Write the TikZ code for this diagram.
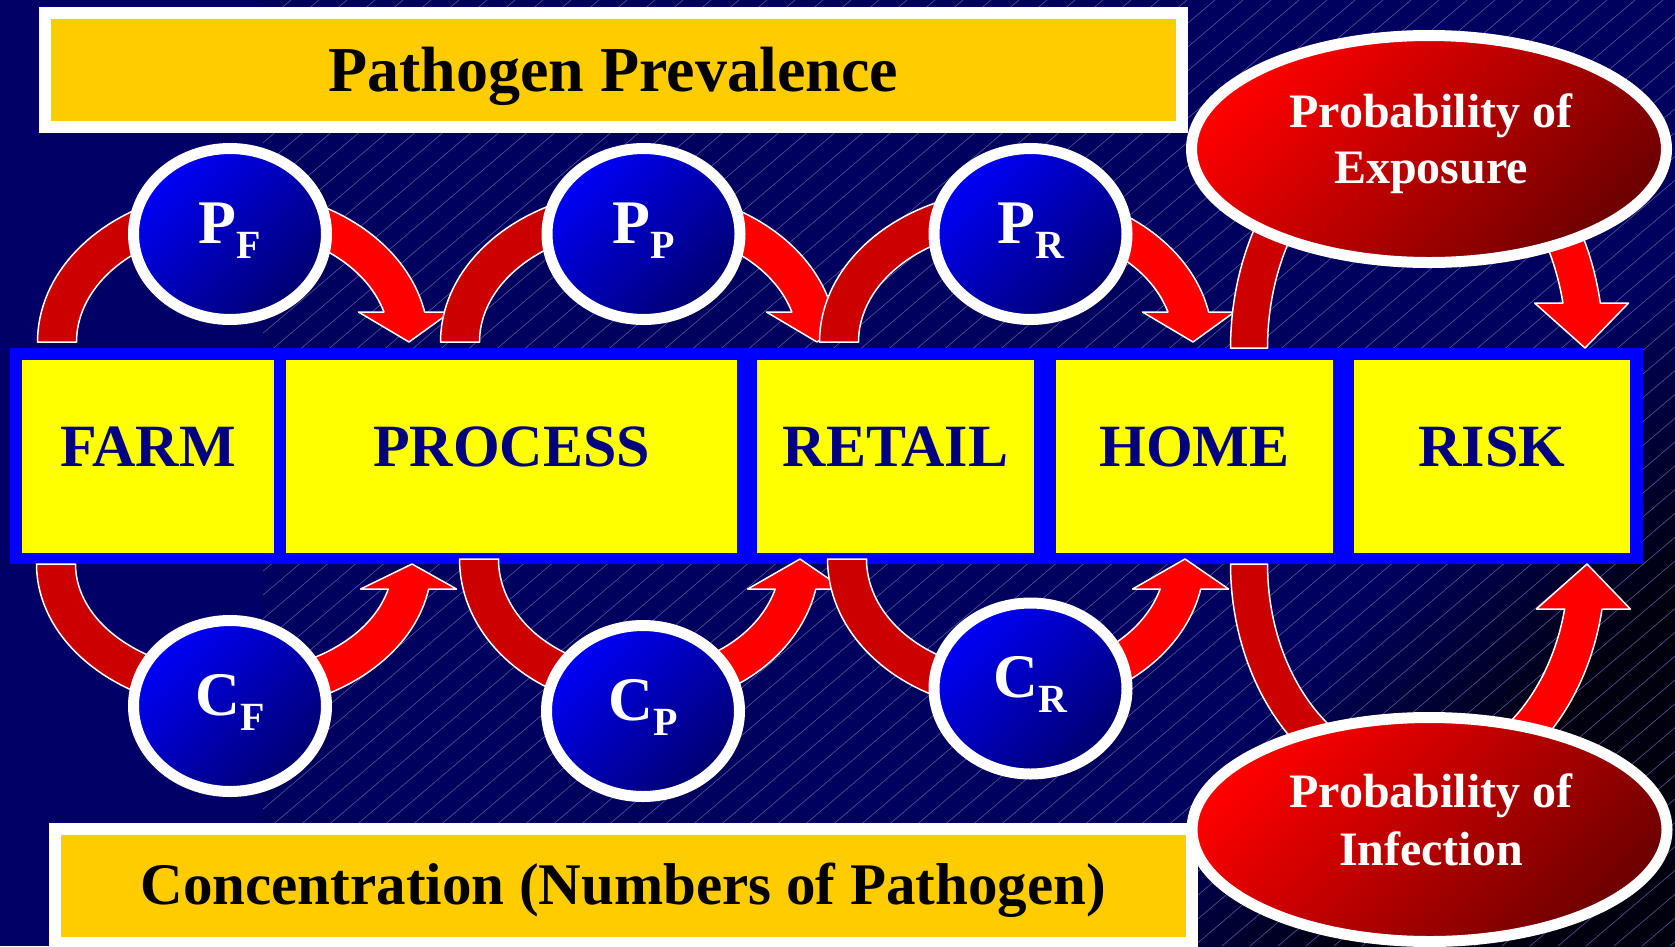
\documentclass[tikz,border=0pt]{standalone}
\usepackage{fontspec}
\setmainfont{Liberation Serif}
\usetikzlibrary{shapes.geometric}
\definecolor{bgL}{RGB}{0,0,102}
\definecolor{bgR}{RGB}{0,0,94}
\definecolor{bgEnd}{RGB}{0,0,15}
\definecolor{hatchc}{RGB}{85,85,155}
\definecolor{barblue}{RGB}{0,0,255}
\definecolor{boxyellow}{RGB}{255,255,0}
\definecolor{navytext}{RGB}{0,0,128}
\definecolor{titleorange}{RGB}{255,204,0}
\definecolor{brightred}{RGB}{255,0,0}
\definecolor{darkred}{RGB}{204,0,0}
\definecolor{circTop}{RGB}{0,0,250}
\definecolor{circBot}{RGB}{0,0,110}
\definecolor{ellTop}{RGB}{255,0,0}
\definecolor{ellBot}{RGB}{110,0,0}
\pgfdeclarehorizontalshading{bgfade}{100bp}{color(0bp)=(bgR); color(66bp)=(bgR); color(75bp)=(bgEnd); color(100bp)=(bgEnd)}
\tikzset{
  bar/.style={fill=barblue, inner sep=0pt, minimum width=1633pt, minimum height=216pt},
  ybox/.style={fill=boxyellow, inner sep=0pt, minimum height=193pt, text=navytext,
    font=\fontsize{60}{60}\selectfont\bfseries, text height=20pt, text depth=0pt},
  titlebox/.style={fill=titleorange, draw=white, line width=12pt, inner sep=0pt,
    minimum width=1136.5pt, minimum height=114pt, text=black},
  pcirc/.style={ellipse, draw=white, line width=11pt, minimum width=193pt, minimum height=171pt,
    inner sep=0pt, top color=circTop, bottom color=circBot, shading angle=45, text=white,
    text height=18pt, text depth=0pt, font=\bfseries},
  redell/.style={ellipse, draw=white, line width=11pt, minimum width=475pt, inner sep=0pt,
    top color=ellTop, bottom color=ellBot, shading angle=45},
  elltext/.style={text=white, font=\fontsize{48}{48}\selectfont\bfseries, anchor=base, inner sep=0pt},
  headarrow/.style={fill=brightred, draw=white, line width=1.5pt, line join=round},
  tailband/.style={fill=darkred, draw=white, line width=1.5pt, line join=round},
  hatchline/.style={draw=hatchc, line width=0.6pt}
}
\newcommand\circlab[2]{{\fontsize{62}{62}\selectfont #1}\raisebox{-15pt}{\fontsize{40}{40}\selectfont #2}}
% tail band: cx, cy, rx, ry, width, side(+1 above, -1 below)
\newcommand\tailarc[6]{%
  \pgfmathsetmacro\Rox{#3+#5/2}\pgfmathsetmacro\Roy{#4+#5/2}%
  \pgfmathsetmacro\Rix{#3-#5/2}\pgfmathsetmacro\Riy{#4-#5/2}%
  \filldraw[tailband] plot[domain=90:180,samples=40,variable=\ang] ({#1+\Rox*cos(\ang)},{#2-(#6)*\Roy*sin(\ang)})
    -- plot[domain=180:90,samples=40,variable=\ang] ({#1+\Rix*cos(\ang)},{#2-(#6)*\Riy*sin(\ang)}) -- cycle;}
% head arrow: cx, cy, rx, ry, width, side, head base y, head half width
\newcommand\headarc[8]{%
  \pgfmathsetmacro\Rox{#3+#5/2}\pgfmathsetmacro\Roy{#4+#5/2}%
  \pgfmathsetmacro\Rix{#3-#5/2}\pgfmathsetmacro\Riy{#4-#5/2}%
  \pgfmathsetmacro\hdy{abs(#2-#7)}%
  \pgfmathsetmacro\tO{asin(\hdy/\Roy)}\pgfmathsetmacro\tI{asin(\hdy/\Riy)}\pgfmathsetmacro\tC{asin(\hdy/#4)}%
  \pgfmathsetmacro\xC{#1+#3*cos(\tC)}%
  \filldraw[headarrow] plot[domain=90:\tO,samples=40,variable=\ang] ({#1+\Rox*cos(\ang)},{#2-(#6)*\Roy*sin(\ang)})
    -- ({\xC+#8},#7) -- ({#1+#3},#2) -- ({\xC-#8},#7)
    -- plot[domain=\tI:90,samples=40,variable=\ang] ({#1+\Rix*cos(\ang)},{#2-(#6)*\Riy*sin(\ang)}) -- cycle;}
\begin{document}
\begin{tikzpicture}[x=1pt,y=-1pt]
\useasboundingbox (0,0) rectangle (1675,946);
% background
\fill[bgL] (0,0) rectangle (1675,946);
\shade[shading=bgfade, shading angle=-42] (263,0) rectangle (1675,946);
\begin{scope}
  \clip (263,0) rectangle (1675,946);
  \foreach \k in {0,...,95} \draw[hatchline] ({-850+\k*28},946) -- ++(1113,-946);
\end{scope}
% title boxes
\node[titlebox, font=\fontsize{64}{64}\selectfont\bfseries, text height=42pt, text depth=0pt]
  (prev) at (613.25,70) {Pathogen Prevalence};
\node[titlebox, font=\fontsize{59}{59}\selectfont\bfseries, text height=36pt, text depth=0pt]
  (conc) at (623.25,886) {Concentration (Numbers of Pathogen)};
% chain of stages
\node[bar] (bar) at (826.5,456) {};
\node[ybox, minimum width=252pt] (farm) at (148,456.5) {FARM};
\node[ybox, minimum width=451pt] (process) at (511.5,456.5) {PROCESS};
\node[ybox, minimum width=277pt] (retail) at (895.5,456.5) {RETAIL};
\node[ybox, minimum width=277pt] (home) at (1194.5,456.5) {HOME};
\node[ybox, minimum width=276pt] (risk) at (1492,456.5) {RISK};
% arrows with heads
\headarc{233}{342}{176}{133}{39}{1}{312}{46}
\headarc{638.5}{342}{178.5}{133}{39}{1}{312}{46}
\headarc{1016}{342}{177}{133}{39}{1}{312}{46}
\headarc{1417}{348}{168}{225}{37}{1}{303}{47}
\headarc{234}{564}{178}{128}{39}{-1}{589}{48}
\headarc{639.5}{559}{160.5}{130}{39}{-1}{589}{48}
\headarc{1016}{559}{169}{132}{39}{-1}{589}{48}
\headarc{1418}{564}{169}{218}{37}{-1}{609}{47}
% tail bands
\tailarc{233}{342}{176}{133}{39}{1}
\tailarc{638.5}{342}{178.5}{133}{39}{1}
\tailarc{1016}{342}{177}{133}{39}{1}
\tailarc{1417}{348}{168}{225}{37}{1}
\tailarc{234}{564}{178}{128}{39}{-1}
\tailarc{639.5}{559}{160.5}{130}{39}{-1}
\tailarc{1016}{559}{169}{132}{39}{-1}
\tailarc{1418}{564}{169}{218}{37}{-1}
% circles
\node[pcirc] (pf) at (230,234) {\circlab{P}{F}};
\node[pcirc] (pp) at (643.5,234) {\circlab{P}{P}};
\node[pcirc] (pr) at (1030.5,234) {\circlab{P}{R}};
\node[pcirc] (cf) at (230,706) {\circlab{C}{F}};
\node[pcirc] (cp) at (643,711) {\circlab{C}{P}};
\node[pcirc] (cr) at (1030.5,688.5) {\circlab{C}{R}};
% probability ellipses
\node[redell, minimum height=227pt] (expo) at (1429,149) {};
\node[redell, minimum height=224pt] (infe) at (1429.5,829.5) {};
\node[elltext] (expo1) at (1431,127) {Probability of};
\node[elltext] (expo2) at (1431,183) {Exposure};
\node[elltext] (infe1) at (1431,807) {Probability of};
\node[elltext] (infe2) at (1431,865) {Infection};
\end{tikzpicture}
\end{document}
